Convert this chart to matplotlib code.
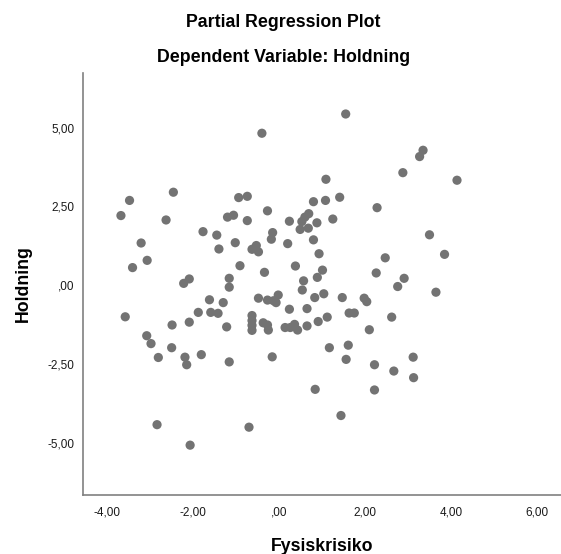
"""Partial regression plot of Holdning against Fysiskrisiko."""

import matplotlib

matplotlib.use("Agg")

import matplotlib.pyplot as plt
from matplotlib.ticker import FixedLocator, FuncFormatter

plt.rcParams["font.family"] = ["Liberation Sans", "DejaVu Sans"]

# residualised predictor (x) and residualised outcome (y)
fysiskrisiko = [
    -2.46, -3.48, -3.68, -2.63, -1.77, -1.45, -3.21, -3.07, -3.41, -2.09,
    -2.22, -0.40, 1.09, -0.94, -0.74, 0.80, 1.08, 1.41, -0.27, -1.20,
    -1.06, -0.74, 0.24, 0.69, 0.60, 0.53, 0.49, 0.68, 0.88, 1.25,
    -1.40, -1.02, -0.15, -0.18, -0.53, -0.63, -0.48, 0.20, 0.80, 0.93,
    -0.91, -0.34, 0.38, 1.01, 0.89, -1.16, 0.57, 1.55, 3.35, 3.27,
    2.88, 4.14, 2.28, 3.50, 3.85, 2.47, 2.26, 2.91, 2.76,
    -1.62, -3.58, -1.88, -1.59, -2.49, -2.09, -3.08, -2.98, -2.50, -2.81,
    -2.19, -2.15, -1.81, -2.84, -2.07, -1.16, 0.54, -1.30, -1.42, -0.48,
    -0.27, -0.13, -0.02, -0.07, 0.24, 0.65, 0.83, 1.04, 1.47, -1.22,
    -0.63, -0.63, -0.63, -0.63, -0.37, -0.27, -0.25, 0.14, 0.26, 0.36,
    0.43, 0.65, 0.91, 1.12, 1.17, -1.16, -0.16, 0.84, 1.44, -0.70,
    3.65, 1.98, 2.04, 1.63, 1.75, 2.62, 2.10, 1.61, 1.56, 2.22,
    2.67, 3.12, 3.13, 2.22,
]
holdning = [
    2.95, 2.69, 2.21, 2.07, 1.70, 1.59, 1.34, 0.79, 0.56, 0.20,
    0.06, 4.82, 3.36, 2.78, 2.82, 2.65, 2.69, 2.79, 2.36, 2.16,
    2.22, 2.05, 2.03, 2.27, 2.16, 2.02, 1.77, 1.81, 1.98, 2.10,
    1.15, 1.35, 1.67, 1.46, 1.26, 1.14, 1.06, 1.32, 1.44, 1.00,
    0.62, 0.41, 0.61, 0.48, 0.25, 0.22, 0.14, 5.43, 4.28, 4.08,
    3.57, 3.33, 2.46, 1.60, 0.98, 0.87, 0.39, 0.22, -0.04,
    -0.46, -1.00, -0.86, -0.86, -1.26, -1.17, -1.60, -1.85, -1.98, -2.29,
    -2.28, -2.52, -2.20, -4.42, -5.07, -0.06, -0.15, -0.55, -0.89, -0.41,
    -0.47, -0.49, -0.31, -0.55, -0.76, -0.74, -0.39, -0.27, -0.39, -1.32,
    -0.96, -1.12, -1.27, -1.43, -1.19, -1.26, -1.42, -1.34, -1.34, -1.24,
    -1.42, -1.29, -1.15, -1.01, -1.98, -2.43, -2.27, -3.30, -4.13, -4.50,
    -0.22, -0.41, -0.52, -0.88, -0.88, -1.01, -1.41, -1.90, -2.35, -2.52,
    -2.72, -2.28, -2.93, -3.32,
]

x_ticks = [-4, -2, 0, 2, 4, 6]
y_ticks = [-5, -2.5, 0, 2.5, 5]


def comma_fmt(v, _pos=None):
    s = f"{v:.2f}".replace(".", ",")
    if s in ("0,00", "-0,00"):
        return ",00"
    return s


fig = plt.figure(figsize=(5.61, 5.54), dpi=100)
ax = fig.add_axes([0.1474, 0.1065, 0.8526, 0.7623])

ax.scatter(fysiskrisiko, holdning, s=44, color="#737373", edgecolors="none",
           zorder=3)

ax.set_xlim(-4.57, 6.56)
ax.set_ylim(-6.65, 6.74)
ax.xaxis.set_major_locator(FixedLocator(x_ticks))
ax.yaxis.set_major_locator(FixedLocator(y_ticks))
ax.xaxis.set_major_formatter(FuncFormatter(comma_fmt))
ax.yaxis.set_major_formatter(FuncFormatter(comma_fmt))
ax.tick_params(length=0, labelsize=8.5, colors="#1a1a1a")
ax.tick_params(axis="x", pad=8)
ax.tick_params(axis="y", pad=6)

for side in ("top", "right"):
    ax.spines[side].set_visible(False)
for side in ("left", "bottom"):
    ax.spines[side].set_color("#808080")
    ax.spines[side].set_linewidth(1.2)

ax.set_xlabel("Fysiskrisiko", fontsize=12.8, fontweight="bold", va="center")
ax.xaxis.set_label_coords(0.5, -0.121)
ax.set_ylabel("Holdning", fontsize=12.8, fontweight="bold", va="center")
ax.yaxis.set_label_coords(-0.125, 0.5)

fig.text(0.505, 0.960, "Partial Regression Plot", ha="center", va="center",
         fontsize=12.8, fontweight="bold")
fig.text(0.505, 0.897, "Dependent Variable: Holdning", ha="center",
         va="center", fontsize=12.8, fontweight="bold")

fig.savefig("out.png", dpi=100)
